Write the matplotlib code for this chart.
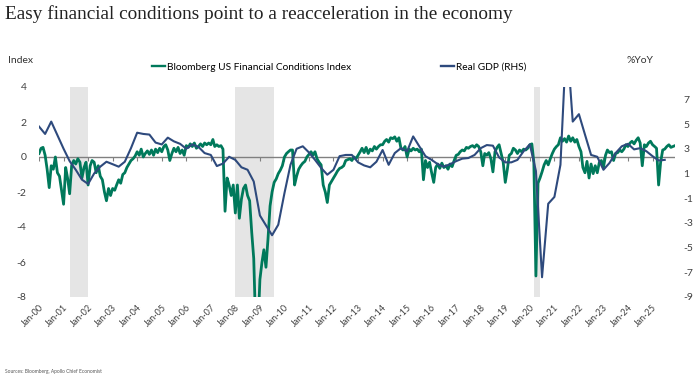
import numpy as np
import pandas as pd
import matplotlib.pyplot as plt

plt.rcParams['font.family'] = ['Lato', 'DejaVu Sans']
plt.rcParams['axes.unicode_minus'] = False

# Bloomberg US Financial Conditions Index, monthly from Jan 2000
fci = [
    0.2, 0.5, 0.55, 0.1, -0.7, -1.75, -0.5, -0.7, 0.0, -0.9, -1.1, -1.9,          # 2000
    -2.7, -0.6, -1.2, -2.1, -0.5, -0.2, -0.4, -0.1, -0.3, -1.2, -0.6, -0.3,       # 2001
    -1.6, -0.5, -0.2, -0.3, -0.9, -0.5, -1.1, -1.3, -2.0, -2.5, -1.8, -2.2,       # 2002
    -1.8, -1.9, -1.6, -1.3, -1.5, -1.0, -0.9, -0.6, -0.4, -0.2, -0.1, 0.05,       # 2003
    0.3, 0.1, 0.45, 0.0, 0.2, 0.35, 0.15, 0.4, 0.1, 0.45, 0.25, 0.5,              # 2004
    0.3, 0.6, 0.7, 0.4, -0.2, 0.2, 0.5, 0.3, 0.55, 0.2, 0.4, 0.1,                 # 2005
    0.65, 0.55, 0.75, 0.6, 0.8, 0.5, 0.6, 0.75, 0.6, 0.8, 0.7, 0.8,               # 2006
    0.7, 1.0, 0.6, 0.7, 0.6, 0.65, 0.45, -3.1, -1.2, -1.6, -2.2, -1.6,            # 2007
    -3.2, -1.6, -3.5, -2.4, -1.8, -1.6, -2.2, -2.5, -4.3, -5.8, -10.0, -10.0,     # 2008
    -7.0, -6.0, -5.3, -6.3, -4.7, -2.8, -2.0, -1.45, -1.25, -0.95, -0.75, -0.5,   # 2009
    0.0, 0.2, 0.3, 0.4, 0.4, -1.6, -1.1, -0.7, -0.5, -0.35, -0.25, 0.0,           # 2010
    0.15, 0.3, 0.1, 0.3, -0.1, -0.3, -0.45, -1.6, -2.0, -2.6, -1.6, -1.4,         # 2011
    -1.2, -1.0, -0.8, -0.65, -0.6, -0.5, -0.2, -0.15, -0.1, -0.2, 0.0, -0.1,      # 2012
    0.1, 0.3, 0.5, 0.25, 0.55, 0.2, 0.45, 0.35, 0.6, 0.45, 0.6, 0.7,              # 2013
    0.7, 0.9, 1.0, 0.85, 1.1, 1.05, 1.15, 0.9, 1.1, 0.5, 0.4, 0.6,                # 2014
    0.0, 0.45, 0.35, 0.5, 0.4, 0.45, 0.3, 0.45, -1.3, -0.2, -0.6, -0.3,           # 2015
    -0.9, -1.45, -0.6, -0.4, -0.65, -0.35, -0.6, -0.5, -0.7, -0.4, -0.55, -0.2,   # 2016
    0.1, 0.15, 0.3, 0.4, 0.35, 0.55, 0.5, 0.6, 0.65, 0.55, 0.7, 0.6,              # 2017
    0.3, -0.5, 0.2, 0.1, 0.25, -0.1, -0.85, 0.3, 0.55, 0.7, 0.2, -0.3,            # 2018
    -1.45, -0.7, 0.1, 0.2, 0.5, 0.4, 0.2, 0.4, 0.3, 0.45, 0.4, 0.5,               # 2019
    0.7, 0.75, -0.3, -6.8, -1.5, -1.2, -0.85, -0.45, -0.2, -0.45, -0.1, 0.2,      # 2020
    0.45, 0.6, 0.7, 1.1, 0.9, 1.05, 0.85, 1.2, 0.9, 1.1, 0.85, 1.0,               # 2021
    0.6, 0.3, -0.6, -0.9, -0.25, -1.2, -0.4, -0.95, -0.5, -0.9, -0.3, -0.2,       # 2022
    -0.6, 0.1, 0.4, 0.25, 0.3, -0.2, 0.2, 0.25, 0.4, 0.3, 0.45, 0.7,              # 2023
    0.6, 0.8, 0.9, 0.75, 0.95, 1.1, 0.8, -0.5, 0.7, 0.6, 0.8, 0.9,                # 2024
    0.7, 0.6, 0.5, -1.6, -0.3, 0.4, 0.45, 0.6, 0.7, 0.55, 0.6, 0.65,              # 2025
]

# Real GDP %YoY, quarterly from 2000
gdp = [
    4.8, 4.2, 5.2, 4.1, 3.0, 2.0, 1.3, 0.5, 0.15, 1.0, 1.55, 1.95,
    1.75, 1.55, 1.95, 3.05, 4.3, 4.2, 4.15, 3.5, 3.35, 3.9, 3.6, 3.4,
    3.0, 3.35, 3.15, 2.65, 2.5, 1.6, 1.8, 2.35, 2.1, 1.5, 1.3, 0.35,
    -2.4, -3.2, -4.0, -3.15, -0.6, 1.7, 3.0, 3.2, 2.7, 2.1, 1.45, 0.9,
    1.3, 2.4, 2.5, 2.5, 1.9, 1.65, 1.5, 1.95, 2.9, 1.7, 2.65, 3.05,
    2.8, 4.0, 3.2, 2.4, 2.1, 1.75, 1.55, 1.75, 2.0, 2.2, 2.25, 2.5,
    3.05, 3.3, 3.25, 2.3, 1.9, 1.9, 2.1, 2.8, 3.35, 1.2, -7.4, -1.45,
    -0.9, 1.7, 12.2, 5.2, 5.8, 4.15, 2.5, 2.35, 1.3, 1.85, 2.65, 3.2,
    3.4, 2.95, 3.05, 2.8, 2.4, 2.05, 2.1,
]

# recessions (grey bars)
rec_start = ['2001-04-01', '2008-01-01', '2020-03-01']
rec_end = ['2002-01-01', '2009-07-31', '2020-06-01']

fci_dates = pd.date_range('2000-01-01', periods=len(fci), freq='MS')
gdp_dates = pd.date_range('2000-01-01', periods=len(gdp), freq='QS')
tick_dates = pd.date_range('2000-01-01', '2025-01-01', freq='YS')
tick_labels = [d.strftime('%b-%y') for d in tick_dates]

green = '#00795B'
navy = '#2E4A7D'
grey = '#808080'

fig = plt.figure(figsize=(7, 3.78), dpi=100)
ax = fig.add_axes([39/700, 1 - 297/378, 636/700, 210/378])

for s, e in zip(rec_start, rec_end):
    ax.axvspan(pd.Timestamp(s), pd.Timestamp(e), color='#E5E5E5', lw=0, zorder=0)

ax.axhline(0, color=grey, lw=1, zorder=1)
ax.vlines(tick_dates, -0.2, 0, color=grey, lw=0.8, zorder=1)

ax.plot(fci_dates, fci, color=green, lw=2.0, zorder=3)
ax.set_ylim(-8, 4)
ax.set_yticks(range(-8, 5, 2))
ax.set_xlim(fci_dates[0], fci_dates[-1])
ax.set_xticks(tick_dates)
ax.set_xticklabels(tick_labels, rotation=45, ha='right', rotation_mode='anchor')
ax.tick_params(axis='x', length=0, pad=4, labelsize=6.5, colors='#404040')
ax.tick_params(axis='y', length=0, pad=9, labelsize=7.5, colors='#404040')

ax2 = ax.twinx()
ax2.plot(gdp_dates, gdp, color=navy, lw=1.5, zorder=4)
ax2.set_ylim(-9, 8)
ax2.set_yticks(range(-9, 8, 2))
ax2.tick_params(axis='y', length=0, pad=6, labelsize=7.5, colors='#404040')
for a in (ax, ax2):
    for sp in a.spines.values():
        sp.set_visible(False)

fig.text(0.007, 0.962, 'Easy financial conditions point to a reacceleration in the economy',
         family='Liberation Serif', fontsize=13.9, va='center', color='#222222')
fig.text(0.012, 0.84, 'Index', fontsize=7.5, va='center', color='#333333')
fig.text(0.895, 0.84, '%YoY', fontsize=7.5, va='center', color='#333333')

h1 = plt.Line2D([], [], color=green, lw=1.7)
h2 = plt.Line2D([], [], color=navy, lw=1.7)
fig.legend([h1], ['Bloomberg US Financial Conditions Index'], loc='center left',
           bbox_to_anchor=(152/700, 0.822), frameon=False, fontsize=7.3,
           handlelength=1.3, handletextpad=0.2, borderpad=0, borderaxespad=0)
fig.legend([h2], ['Real GDP (RHS)'], loc='center left',
           bbox_to_anchor=(441/700, 0.822), frameon=False, fontsize=7.3,
           handlelength=1.3, handletextpad=0.2, borderpad=0, borderaxespad=0)

fig.text(0.007, 0.016, 'Sources: Bloomberg, Apollo Chief Economist', fontsize=3.5,
         va='center', color='#555555')

fig.savefig('out.png', dpi=100)
